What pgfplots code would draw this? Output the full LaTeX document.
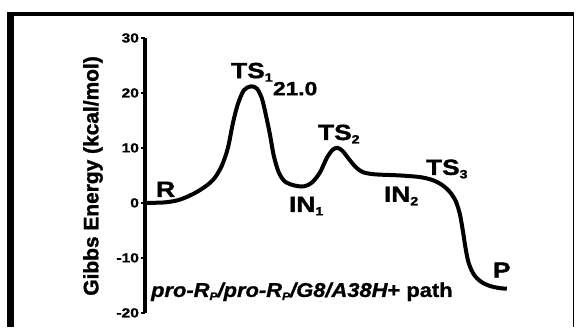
\documentclass[border=0pt]{standalone}
\usepackage{fontspec}
\usepackage{pgfplots}
\pgfplotsset{compat=1.18}
\setmainfont{Liberation Sans}
\newfontfamily\heavy{Liberation Sans}[UprightFont={* Bold}, ItalicFont={* Bold Italic}, FakeStretch=1.2, FakeBold=1.5]
\newfontfamily\heavyit{Liberation Sans}[UprightFont={* Bold}, ItalicFont={* Bold Italic}, FakeStretch=1.1, FakeBold=1.2]
\newfontfamily\heavyy{Liberation Sans}[UprightFont={* Bold}, FakeBold=1.5]
\newcommand\sub[1]{\raisebox{-0.3ex}{\fontsize{12}{12}\selectfont #1}}
\newcommand\subs[1]{\raisebox{-0.3ex}{\fontsize{11}{11}\selectfont #1}}
\begin{document}
\begin{tikzpicture}
\begin{axis}[
  x=1bp, y=5.5bp,
  xmin=145, xmax=510, ymin=-20, ymax=30,
  axis x line=none,
  axis y line=left,
  axis line style={line width=4bp, -},
  ytick={-20,-10,0,10,20,30},
  tick style={line width=2.5bp, black},
  major tick length=4bp,
  tick align=outside,
  yticklabel style={font=\fontsize{13}{13}\selectfont\heavy, xshift=1.5bp},
  /pgf/number format/assume math mode=true,
  clip=false,
]
\addplot[line width=4bp, smooth, tension=0.5] coordinates {
(145,0) (165,0.1) (180,0.6) (195,1.8) (207,3.2) (215,4.6) (222,6.8) (228,10) (233,14.5) (238,18) (244,20.5) (251,21.2) (257,20.8) (262,19) (266,16) (270,12.5) (274,8.5) (279,5.5) (285,3.9) (294,3.2) (304,3.0) (312,3.7) (320,5.5) (327,8.2) (333,9.7) (338,10.0) (343,9.4) (349,8.0) (356,6.5) (363,5.6) (375,5.2) (400,5.0) (420,4.7) (432,4.2) (442,3.3) (450,2.0) (456,0.3) (460,-2) (463,-5) (466,-8.5) (469,-11) (474,-13) (481,-14.3) (490,-15.1) (500,-15.5) (507,-15.6)
};
% frame
\path (axis cs:0,-22.545) rectangle (axis cs:576,36.909);
\draw[line width=7bp] (axis cs:10.5,-22.545) -- (axis cs:10.5,34.4);
\draw[line width=4.5bp] (axis cs:7,34.4) -- (axis cs:574,34.4);
\draw[line width=1.5bp] (axis cs:573.5,34.4) -- (axis cs:573.5,-22.545);
% labels
\node[rotate=90, font=\fontsize{21}{24}\selectfont\heavyy] at (axis cs:93,4.9) {Gibbs Energy (kcal/mol)};
\tikzset{lab/.style={anchor=base west, inner sep=0pt, font=\fontsize{22}{24}\selectfont\heavy}}
\node[lab] at (axis cs:156,1.1) {R};
\node[lab] at (axis cs:231,22.7) {TS\sub{1}};
\node[lab, font=\fontsize{19}{20}\selectfont\heavy] at (axis cs:273,19.6) {21.0};
\node[lab] at (axis cs:289,-1.64) {IN\sub{1}};
\node[lab] at (axis cs:318,11.45) {TS\sub{2}};
\node[lab] at (axis cs:384,0.2) {IN\sub{2}};
\node[lab] at (axis cs:426,5.1) {TS\sub{3}};
\node[lab] at (axis cs:493,-13.6) {P};
\node[lab, font=\fontsize{20}{22}\selectfont\heavyit] at (axis cs:151,-17.1) {\itshape pro-R\subs{P}/pro-R\subs{P}/G8/A38H\upshape+ path};
\end{axis}
\end{tikzpicture}
\end{document}
